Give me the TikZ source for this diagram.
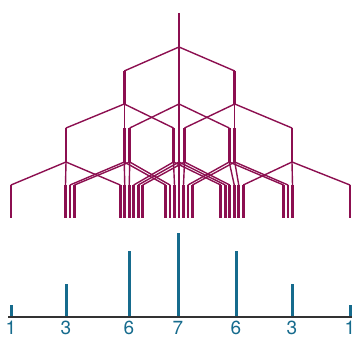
\documentclass[tikz,border=0pt]{standalone}
\usepackage{fontspec}
\setsansfont{TeX Gyre Heros}
\definecolor{TreeRed}{HTML}{8C0F50}
\definecolor{PeakBlue}{HTML}{166B8D}
\definecolor{AxisGray}{HTML}{333333}
\tikzset{
  bar/.style={TreeRed,line width=2.8pt},
  link/.style={TreeRed,line width=1.4pt},
  peak/.style={PeakBlue,line width=3pt},
  count/.style={text=PeakBlue,anchor=north,inner sep=0pt,
    font=\sffamily\fontsize{19}{22}\selectfont},
}
\begin{document}
\begin{tikzpicture}[x=1pt,y=-1pt]
  \useasboundingbox (0,0) rectangle (357,339);

  % level 0
  \coordinate (L0-t) at (179,13);
  \coordinate (L0-b) at (179,47);
  \draw[bar] (L0-t) -- (L0-b);

  % level 1
  \foreach \n/\x in {a/124.25,b/179,c/234.75} {
    \coordinate (L1\n-t) at (\x,71);
    \coordinate (L1\n-b) at (\x,104);
    \draw[link] (L0-b) -- (L1\n-t);
    \draw[bar] (L1\n-t) -- (L1\n-b);
  }

  % level 2
  \foreach \n/\x/\p in {a/66/a,b/124.25/a,d/173.5/a,
      c/129.75/b,e/179/b,g/229.25/b,
      f/184.5/c,h/234.75/c,i/292/c} {
    \coordinate (L2\n-t) at (\x,128);
    \coordinate (L2\n-b) at (\x,162);
    \draw[link] (L1\p-b) -- (L2\n-t);
    \draw[bar] (L2\n-t) -- (L2\n-b);
  }

  % level 3
  \foreach \x/\p [count=\i] in {11/a,65.5/a,120.25/a,
      70/b,124.75/b,165.5/b,
      74.5/c,129.25/c,170/c,
      133.75/d,174.5/d,220.75/d,
      138.25/e,179/e,225.25/e,
      142.75/f,183.5/f,229.75/f,
      188/g,234.25/g,283.5/g,
      192.5/h,238.75/h,288/h,
      243.25/i,292.5/i,350/i} {
    \coordinate (L3-\i-t) at (\x,185);
    \coordinate (L3-\i-b) at (\x,218);
    \draw[link] (L2\p-b) -- (L3-\i-t);
    \draw[bar] (L3-\i-t) -- (L3-\i-b);
  }

  % spectrum
  \foreach \x/\top/\lbl [count=\i] in {11/305/1,66/284/3,129/251/6,
      178/233/7,236/251/6,292/284/3,350/305/1} {
    \coordinate (pk\i-b) at (\x,317);
    \coordinate (pk\i-t) at (\x,\top);
    \draw[peak] (pk\i-b) -- (pk\i-t);
    \node[count] (lbl\i) at (\x,321) {\lbl};
  }
  \coordinate (axis-l) at (8,317);
  \coordinate (axis-r) at (352,317);
  \draw[AxisGray,line width=1.3pt] (axis-l) -- (axis-r);
\end{tikzpicture}
\end{document}
